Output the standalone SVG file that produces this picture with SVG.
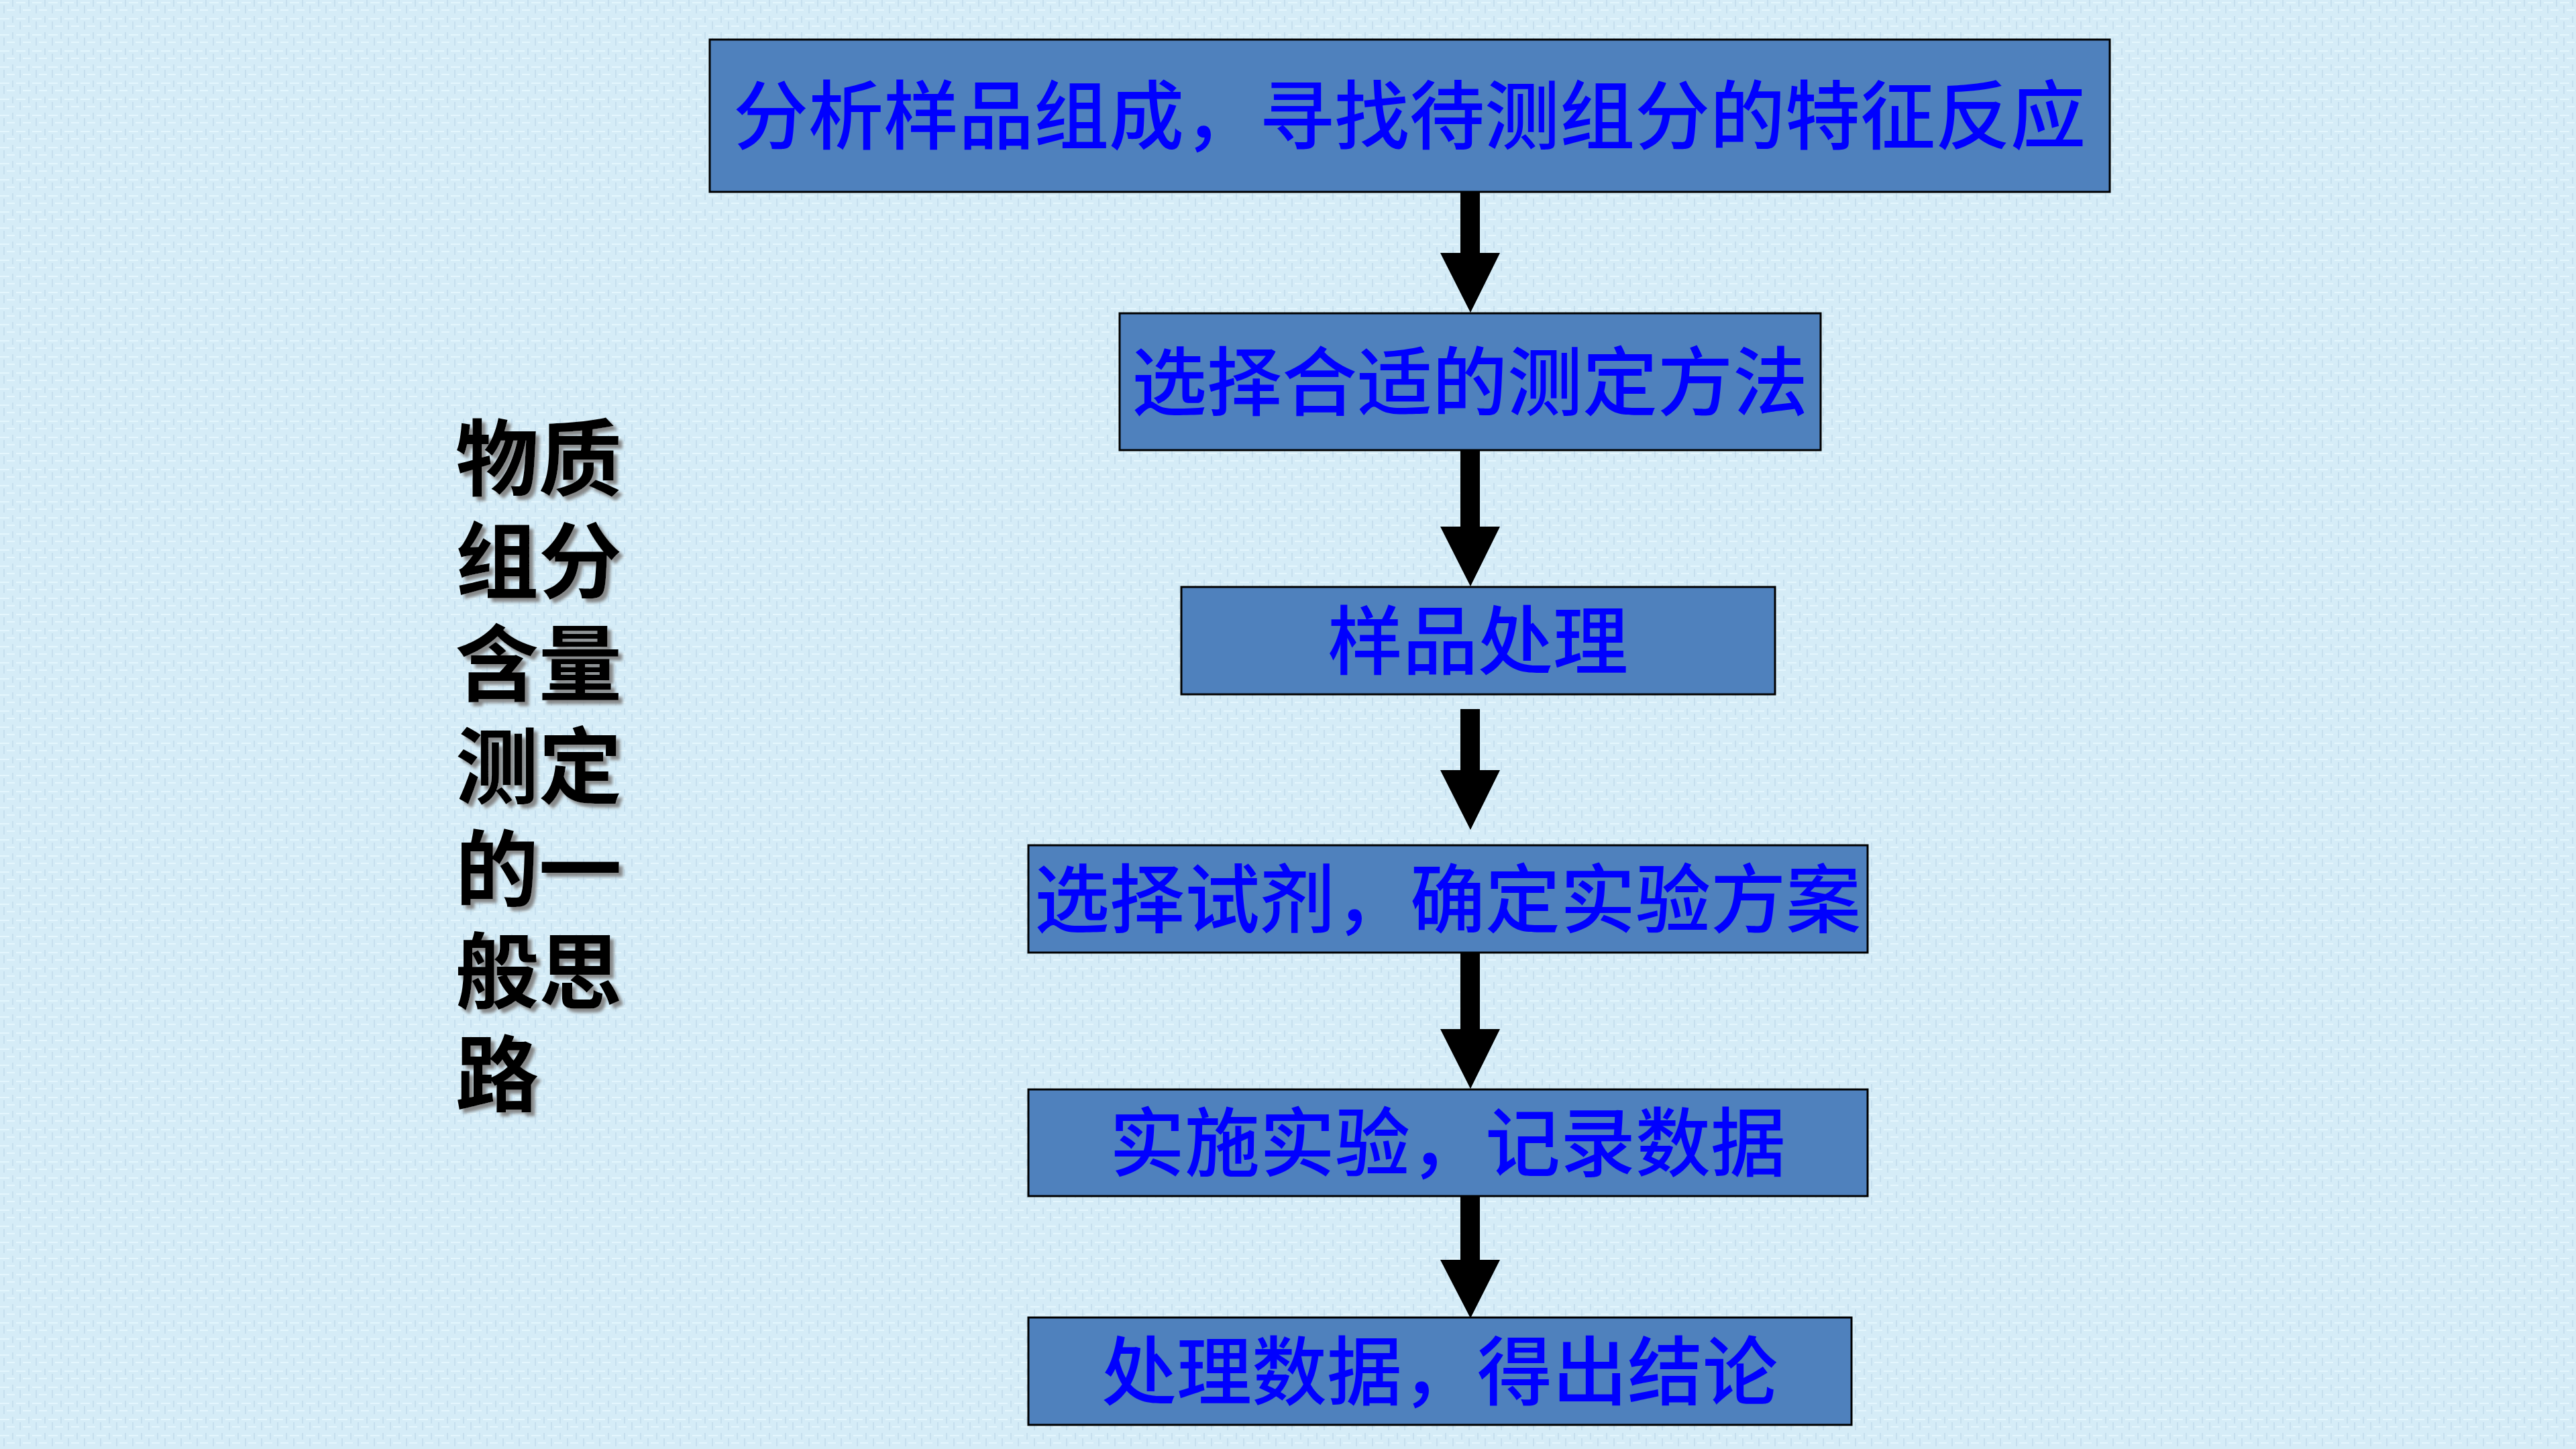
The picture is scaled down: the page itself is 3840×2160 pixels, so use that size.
<svg xmlns="http://www.w3.org/2000/svg" width="3840" height="2160" viewBox="0 0 3840 2160">
  <style>
    .box { fill: #4F81BD; stroke: #000000; stroke-width: 3; }
    .lbl { font-family: "Noto Sans CJK SC", "Noto Sans CJK TC", sans-serif; font-size: 112px; font-weight: 500; fill: #0000FF; text-anchor: middle; }
    .side { font-family: "Noto Sans CJK SC", "Noto Sans CJK TC", sans-serif; font-size: 124px; font-weight: bold; fill: #000000; }
    .arrow { fill: #000000; }
  </style>
  <defs>
    <pattern id="tex" width="24" height="24" patternUnits="userSpaceOnUse">
      <rect width="24" height="24" fill="#D5ECF7"/>
      <rect x="0" y="3" width="14" height="2" fill="#E4F6FD"/>
      <rect x="10" y="14" width="12" height="2" fill="#E4F6FD"/>
      <rect x="5" y="8" width="2" height="12" fill="#C6DFEE"/>
      <rect x="18" y="0" width="2" height="10" fill="#C6DFEE"/>
    </pattern>
    <filter id="shadow" x="-20%" y="-20%" width="140%" height="140%">
      <feDropShadow dx="6" dy="6" stdDeviation="2" flood-color="#7F7F7F" flood-opacity="0.9"/>
    </filter>
  </defs>

  <rect x="0" y="0" width="3840" height="2160" fill="url(#tex)"/>

  <g id="title" filter="url(#shadow)">
    <text class="side"><tspan x="679" y="729">物质</tspan><tspan x="679" y="882">组分</tspan><tspan x="679" y="1035">含量</tspan><tspan x="679" y="1188">测定</tspan><tspan x="679" y="1341">的一</tspan><tspan x="679" y="1494">般思</tspan><tspan x="679" y="1647">路</tspan></text>
  </g>

  <g id="connectors">
    <polygon class="arrow" points="2177,287 2206,287 2206,377 2236,377 2192,466 2147,377 2177,377"/>
    <polygon class="arrow" points="2177,672 2206,672 2206,785 2236,785 2192,874 2147,785 2177,785"/>
    <polygon class="arrow" points="2177,1057 2206,1057 2206,1148 2236,1148 2192,1237 2147,1148 2177,1148"/>
    <polygon class="arrow" points="2177,1421 2206,1421 2206,1534 2236,1534 2192,1623 2147,1534 2177,1534"/>
    <polygon class="arrow" points="2177,1784 2206,1784 2206,1878 2236,1878 2192,1965 2147,1878 2177,1878"/>
  </g>

  <g id="node1">
    <rect class="box" x="1058" y="59" width="2087" height="227"/>
    <text class="lbl" x="2101" y="214">分析样品组成，寻找待测组分的特征反应</text>
  </g>
  <g id="node2">
    <rect class="box" x="1669" y="467" width="1045" height="204"/>
    <text class="lbl" x="2191" y="611">选择合适的测定方法</text>
  </g>
  <g id="node3">
    <rect class="box" x="1761" y="875" width="885" height="160"/>
    <text class="lbl" x="2203" y="997">样品处理</text>
  </g>
  <g id="node4">
    <rect class="box" x="1533" y="1260" width="1251" height="160"/>
    <text class="lbl" x="2158" y="1382">选择试剂，确定实验方案</text>
  </g>
  <g id="node5">
    <rect class="box" x="1533" y="1624" width="1251" height="159"/>
    <text class="lbl" x="2158" y="1745">实施实验，记录数据</text>
  </g>
  <g id="node6">
    <rect class="box" x="1533" y="1964" width="1227" height="160"/>
    <text class="lbl" x="2146" y="2086">处理数据，得出结论</text>
  </g>
</svg>
